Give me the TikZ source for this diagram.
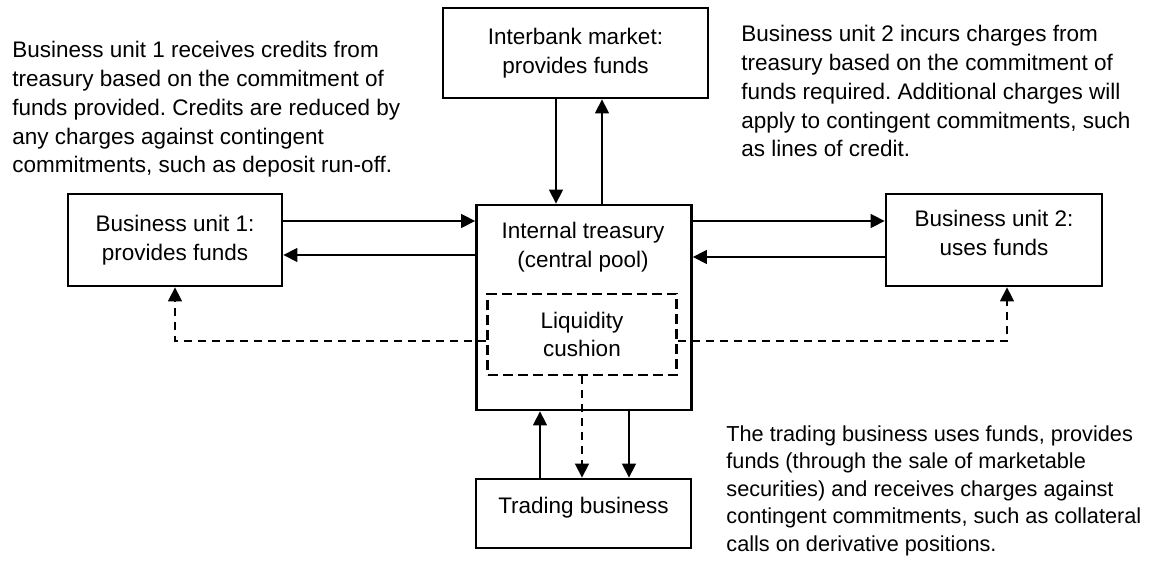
\documentclass[tikz,border=0pt]{standalone}
\usepackage{amsmath}
\usepackage{fontspec}
\setmainfont{Liberation Sans}
\usetikzlibrary{arrows.meta}
\frenchspacing

\begin{document}
\begin{tikzpicture}[x=0.5pt,y=-0.5pt]
\tikzstyle{every node}+=[inner sep=0pt,font=\fontsize{11.25}{14.4}\selectfont]
\tikzstyle{box}=[draw=black,line width=1.4pt,align=center]
\tikzstyle{pool}=[draw=black,line width=1.3pt,dash pattern=on 5pt off 2.5pt,align=center]
\tikzstyle{flow}=[black,line width=0.7pt,-{Triangle[length=7pt,width=7pt]}]
\tikzstyle{flowdash}=[flow,dash pattern=on 4pt off 3pt]
\tikzstyle{note}=[anchor=north west,align=left]
\useasboundingbox (0,0) rectangle (1151,565);
\node [box,minimum width=107pt,minimum height=46pt] (bu1) at (175,240) {Business unit 1:\\provides funds};
\node [box,minimum width=108pt,minimum height=46pt,text depth=7.5pt] (bu2) at (994,240) {Business unit 2:\\uses funds};
\node [box,minimum width=132.5pt,minimum height=45pt] (interbank) at (575.5,53) {Interbank market:\\provides funds};
\node [box,minimum width=107.5pt,minimum height=102.5pt] (treasury) at (584,307.5) {};
\node [anchor=north,align=center] (treasurytext) at (583,222) {Internal treasury\\(central pool)};
\node [pool,minimum width=94.5pt,minimum height=40.5pt] (cushion) at (582,334.5) {Liquidity\\cushion};
\node [box,minimum width=107.5pt,minimum height=34.5pt,text depth=8.5pt] (trading) at (583.5,513.5) {Trading business};
% side notes
\node [note] (note1) at (12,41) {Business unit 1 receives credits from\\treasury based on the commitment of\\funds provided. Credits are reduced by\\any charges against contingent\\commitments, such as deposit run-off.};
\node [note] (note2) at (741,25) {Business unit 2 incurs charges from\\treasury based on the commitment of\\funds required. Additional charges will\\apply to contingent commitments, such\\as lines of credit.};
\node [note,font=\fontsize{10.85}{13.75}\selectfont] (note3) at (726,425) {The trading business uses funds, provides\\funds (through the sale of marketable\\securities) and receives charges against\\contingent commitments, such as collateral\\calls on derivative positions.};
% funding flows
\draw [flow] (bu1.east |- 0,221) -- (treasury.west |- 0,221);
\draw [flow] (treasury.west |- 0,255) -- (bu1.east |- 0,255);
\draw [flow] (treasury.east |- 0,221) -- (bu2.west |- 0,221);
\draw [flow] (bu2.west |- 0,257) -- (treasury.east |- 0,257);
\draw [flow] (interbank.south -| 556,0) -- (treasury.north -| 556,0);
\draw [flow] (treasury.north -| 602,0) -- (interbank.south -| 602,0);
\draw [flow] (trading.north -| 540,0) -- (treasury.south -| 540,0);
\draw [flow] (treasury.south -| 629,0) -- (trading.north -| 629,0);
% contingent calls on the cushion
\draw [flowdash] (cushion.south) -- (trading.north -| cushion.south);
\draw [flowdash] (cushion.west |- 0,341) -| (bu1.south);
\draw [flowdash] (cushion.east |- 0,341) -| (bu2.south -| 1007,0);
\end{tikzpicture}
\end{document}
